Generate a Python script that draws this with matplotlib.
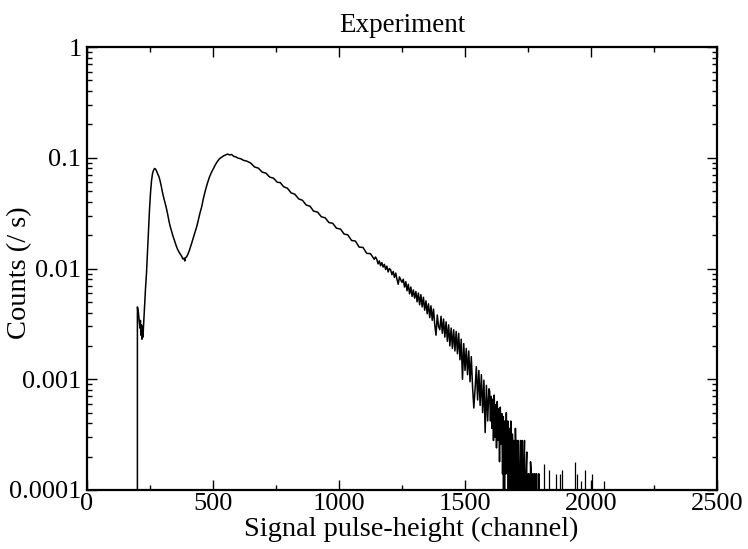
import matplotlib
matplotlib.use("Agg")
import matplotlib.pyplot as plt
from matplotlib.ticker import FixedLocator, FixedFormatter, LogLocator, NullFormatter, MultipleLocator

plt.rcParams['font.family'] = ['Liberation Serif', 'DejaVu Serif']

# ---- data ----
# smooth part of the spectrum (channel, counts per second)
main_ch = [199, 200, 202, 204, 206, 208, 210, 212, 214, 216, 218, 220, 222, 224, 226,
           229, 232, 236, 240, 244, 248, 252, 256, 260, 264, 268, 272, 276, 280, 285,
           290, 295, 300, 305, 310, 315, 320, 325, 330, 335, 340, 345, 350, 355, 360,
           365, 370, 375, 380, 385, 388, 390, 395, 400, 405, 410, 415, 420, 425, 430,
           436, 442, 448, 455, 462, 470, 478, 486, 494, 502, 510, 518, 526, 534, 542,
           550, 558, 566, 574, 582, 590, 600, 610, 620, 635, 650, 665, 680, 695, 710,
           725, 740, 755, 767, 780, 795, 810, 825, 840, 855, 870, 885, 899, 915, 930,
           945, 960, 975, 990, 1006, 1020, 1035, 1050, 1065, 1080, 1095, 1110, 1125, 1140]
main_val = [0.0, 0.0045, 0.0043, 0.0040, 0.0036, 0.0032, 0.0029, 0.0034, 0.0025, 0.0031,
            0.0023, 0.0030, 0.0024, 0.0029, 0.0035,
            0.0048, 0.0065, 0.0090, 0.014, 0.022, 0.034, 0.048, 0.062, 0.072, 0.077,
            0.080, 0.079, 0.076, 0.072, 0.068,
            0.062, 0.055, 0.048, 0.043, 0.039, 0.035, 0.031, 0.027, 0.024, 0.022,
            0.020, 0.0185, 0.0170, 0.0158, 0.0148,
            0.0141, 0.0135, 0.0130, 0.0122, 0.0124, 0.0117, 0.0125, 0.0127, 0.0134, 0.0143,
            0.0155, 0.0168, 0.0184, 0.0200, 0.0218,
            0.0241, 0.0275, 0.0315, 0.036, 0.043, 0.051, 0.059, 0.067, 0.074, 0.080,
            0.087, 0.093, 0.098, 0.101, 0.104,
            0.106, 0.108, 0.106, 0.107, 0.103, 0.102, 0.099, 0.098, 0.095, 0.093,
            0.0895, 0.0825, 0.0806, 0.0742, 0.0726,
            0.0668, 0.0655, 0.0601, 0.0596, 0.0548, 0.0531, 0.0482, 0.0468, 0.0425,
            0.0413, 0.0374, 0.0365, 0.0330, 0.0323, 0.0293,
            0.0287, 0.0260, 0.0256, 0.0231, 0.0227, 0.0205, 0.0201, 0.0179, 0.0177,
            0.0156, 0.0155, 0.0137, 0.0136, 0.0121]

# noisy tail, every 5 channels (counts per second)
tail_ch = list(range(1145, 1600, 5))
tail_val = [0.0127,
            0.0121, 0.0110, 0.0117, 0.0106, 0.0113, 0.0103, 0.0109, 0.0098, 0.0105, 0.0093,
            0.0100, 0.0097, 0.0088, 0.0094, 0.0083, 0.0091, 0.0080, 0.0072, 0.0084, 0.0079,
            0.0075, 0.0080, 0.0068, 0.0076, 0.0063, 0.0072, 0.0059, 0.0068, 0.0056, 0.0064,
            0.0054, 0.0062, 0.0050, 0.0060, 0.0047, 0.0058, 0.0045, 0.0055, 0.0042, 0.0051,
            0.0039, 0.0048, 0.0036, 0.0046, 0.0034, 0.0043, 0.0031, 0.0025, 0.0038, 0.0030,
            0.0028, 0.0037, 0.0026, 0.0035, 0.0024, 0.0033, 0.0022, 0.0031, 0.0020, 0.0029,
            0.0019, 0.0028, 0.0018, 0.0027, 0.0017, 0.0026, 0.0015, 0.0023, 0.0010, 0.0021,
            0.0012, 0.0019, 0.0011, 0.0018, 0.00095, 0.0016, 0.00085, 0.00055, 0.00082, 0.0013,
            0.00065, 0.0012, 0.00058, 0.0011, 0.00050, 0.00098, 0.00033, 0.00088, 0.00042, 0.00082]

# far tail, every 3 channels: mostly 0, 1, 2 or 3 counts
far_ch = list(range(1598, 1800, 3))
far_val = [0.00078, 0.00042, 0.00070, 0.00036, 0.00066, 0.00028, 0.00072, 0.00030,
           0.00059, 0.00024, 0.00063, 0.00028, 0.00054, 0.00018, 0.00056, 0.00026,
           0.00049, 0.00014, 0.00046, 0.0, 0.00042, 0.00014, 0.00050, 0.00014,
           0.00042, 0.0, 0.00036, 0.00014, 0.00042, 0.0, 0.00032, 0.00014,
           0.00028, 0.0, 0.00036, 0.00014, 0.00028, 0.0, 0.00028, 0.00014,
           0.0, 0.00028, 0.00014, 0.00028, 0.0, 0.00014, 0.00028, 0.0,
           0.00014, 0.00022, 0.0, 0.00014, 0.00014, 0.0, 0.00018, 0.00014,
           0.0, 0.00014, 0.0, 0.00014, 0.00014, 0.0, 0.00014, 0.0,
           0.0, 0.00014, 0.0, 0.0]

# isolated single-count channels beyond the tail
spike_ch = [1815, 1835, 1860, 1875, 1885, 1935, 1945, 1960, 1975, 2005, 2050]
spike_val = [0.00017, 0.00015, 0.00014, 0.00014, 0.00015, 0.00018, 0.00014, 0.00012,
             0.00015, 0.00014, 0.00012]

x_ticks = [0, 500, 1000, 1500, 2000, 2500]
y_ticks = [1e-4, 1e-3, 1e-2, 1e-1, 1]
y_tick_labels = ['0.0001', '0.001', '0.01', '0.1', '1']

# ---- figure ----
fig = plt.figure(figsize=(7.48, 5.49), dpi=100)
ax = fig.add_axes([87/748, 1 - 490/549, (717 - 87)/748, (490 - 47)/549])

ax.set_yscale('log', nonpositive='clip')
ax.plot(main_ch + tail_ch + far_ch, main_val + tail_val + far_val, color='black', lw=1.1)
ax.vlines(spike_ch, 1e-6, spike_val, color='black', lw=0.9)

ax.set_xlim(0, 2500)
ax.set_ylim(1e-4, 1)

ax.xaxis.set_major_locator(FixedLocator(x_ticks))
ax.xaxis.set_minor_locator(MultipleLocator(250))
ax.yaxis.set_major_locator(FixedLocator(y_ticks))
ax.yaxis.set_major_formatter(FixedFormatter(y_tick_labels))
ax.yaxis.set_minor_locator(LogLocator(base=10, subs=range(2, 10), numticks=20))
ax.yaxis.set_minor_formatter(NullFormatter())

ax.tick_params(which='both', direction='in', top=True, right=True, width=1.0,
               labelsize=19)
ax.tick_params(axis='x', pad=2)
ax.tick_params(axis='y', pad=4)
ax.tick_params(which='major', length=7)
ax.tick_params(which='minor', length=3.5)
for s in ax.spines.values():
    s.set_linewidth(1.6)

ax.set_xlabel('Signal pulse-height (channel)', fontsize=20.5)
ax.xaxis.set_label_coords(0.515, -0.061)
ax.set_ylabel('Counts (/ s)', fontsize=20.5)
ax.yaxis.set_label_coords(-0.087, 0.49)
ax.set_title('Experiment', fontsize=19.5, pad=11)

fig.savefig('out.png', dpi=100)
